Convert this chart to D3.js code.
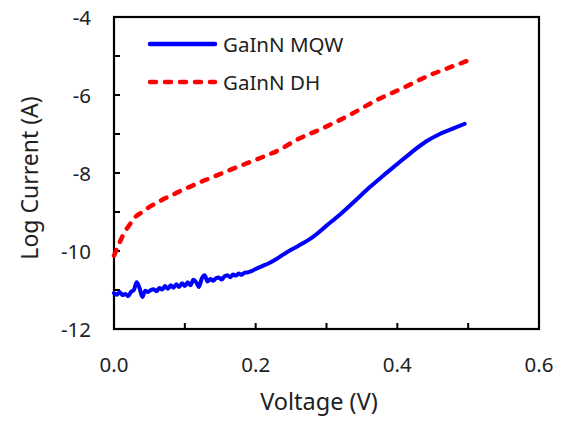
<!DOCTYPE html>
<html><head><meta charset="utf-8">
<script src="https://cdn.jsdelivr.net/npm/d3@7"></script>
<style>body{margin:0;background:#fff;} text{font-family:"Noto Sans","Open Sans",sans-serif;fill:#222;}</style>
</head><body>
<svg id="c" width="564" height="422"></svg>
<script>
const seriesNames = ["GaInN MQW", "GaInN DH"];
const mqwV = [0,0.004,0.008,0.012,0.016,0.02,0.024,0.028,0.032,0.036,0.04,0.044,0.048,0.052,0.056,0.06,0.064,0.068,0.072,0.076,0.08,0.084,0.088,0.092,0.096,0.1,0.104,0.108,0.112,0.116,0.12,0.124,0.128,0.132,0.136,0.14,0.144,0.148,0.152,0.156,0.16,0.164,0.168,0.172,0.176,0.18,0.184,0.188,0.192,0.196,0.2,0.21,0.22,0.23,0.24,0.25,0.26,0.28,0.3,0.32,0.34,0.36,0.38,0.4,0.42,0.44,0.46,0.48,0.495];
const mqwI = [-11.08,-11.12,-11.05,-11.13,-11.1,-11.16,-11.05,-11.0,-10.8,-10.95,-11.18,-11.02,-11.05,-11.0,-10.98,-11.03,-10.95,-10.99,-10.9,-10.97,-10.88,-10.94,-10.85,-10.92,-10.83,-10.9,-10.8,-10.88,-10.74,-10.8,-10.92,-10.7,-10.62,-10.78,-10.72,-10.76,-10.7,-10.68,-10.73,-10.65,-10.62,-10.67,-10.6,-10.63,-10.58,-10.61,-10.56,-10.55,-10.53,-10.5,-10.46,-10.38,-10.3,-10.2,-10.08,-9.97,-9.87,-9.65,-9.35,-9.05,-8.72,-8.38,-8.07,-7.77,-7.47,-7.2,-7.0,-6.85,-6.74];
const dhV = [0,0.004,0.008,0.012,0.016,0.02,0.025,0.03,0.04,0.05,0.06,0.072,0.085,0.096,0.11,0.125,0.14,0.16,0.185,0.21,0.232,0.258,0.295,0.333,0.371,0.408,0.446,0.47,0.498];
const dhI = [-10.12,-9.95,-9.78,-9.62,-9.48,-9.38,-9.25,-9.13,-9.0,-8.87,-8.77,-8.65,-8.54,-8.44,-8.33,-8.21,-8.1,-7.95,-7.77,-7.59,-7.42,-7.15,-6.85,-6.51,-6.13,-5.82,-5.49,-5.32,-5.13];
const xTicks = [0,0.1,0.2,0.3,0.4,0.5,0.6];
const xLabels = ["0.0","0.2","0.4","0.6"];
const yTicks = [-12,-11,-10,-9,-8,-7,-6,-5,-4];
const yLabels = ["-12","-10","-8","-6","-4"];

const svg = d3.select("#c");
const L=114, R=539, T=17, B=329;
const x = d3.scaleLinear().domain([0,0.6]).range([L,R]);
const y = d3.scaleLinear().domain([-12,-4]).range([B,T]);

const g = svg.append("g");
g.append("rect").attr("x",L).attr("y",T).attr("width",R-L).attr("height",B-T)
 .attr("fill","none").attr("stroke","#000").attr("stroke-width",2.2);

g.selectAll(".xt").data(xTicks).enter().append("line")
 .attr("x1",d=>x(d)).attr("x2",d=>x(d)).attr("y1",B).attr("y2",B-6)
 .attr("stroke","#000").attr("stroke-width",2);
g.selectAll(".xl").data(xLabels).enter().append("text")
 .attr("x",d=>x(+d)).attr("y",372).attr("text-anchor","middle").attr("font-size",20.5).text(d=>d);
g.selectAll(".yt").data(yTicks).enter().append("line")
 .attr("x1",L).attr("x2",L+6).attr("y1",d=>y(d)).attr("y2",d=>y(d))
 .attr("stroke","#000").attr("stroke-width",2);
g.selectAll(".yl").data(yLabels).enter().append("text")
 .attr("x",91).attr("y",d=>y(+d)+7.5).attr("text-anchor","end").attr("font-size",20.5).text(d=>d);

g.append("text").attr("x",319).attr("y",410).attr("text-anchor","middle").attr("font-size",23.5).text("Voltage (V)");
g.append("text").attr("transform","translate(38,178) rotate(-90)").attr("text-anchor","middle").attr("font-size",23).text("Log Current (A)");

const mqw = mqwV.map((v,i)=>[v,mqwI[i]]);
const dh = dhV.map((v,i)=>[v,dhI[i]]);
const line = d3.line().x(d=>x(d[0])).y(d=>y(d[1])).curve(d3.curveMonotoneX);
g.append("path").datum(dh).attr("d",line).attr("fill","none")
 .attr("stroke","#ff0000").attr("stroke-width",4.5).attr("stroke-dasharray","6,9").attr("stroke-linecap","round");
g.append("path").datum(mqw).attr("d",line).attr("fill","none")
 .attr("stroke","#0000ff").attr("stroke-width",4).attr("stroke-linejoin","round").attr("stroke-linecap","round");

const lg = [{n:seriesNames[0],c:"#0000ff",dash:null,yy:44},{n:seriesNames[1],c:"#ff0000",dash:"6,9",yy:82}];
lg.forEach(d=>{
  const ln = g.append("line").attr("x1",150).attr("x2",215).attr("y1",d.yy).attr("y2",d.yy)
    .attr("stroke",d.c).attr("stroke-width",4.5).attr("stroke-linecap","round");
  if(d.dash) ln.attr("stroke-dasharray",d.dash);
  g.append("text").attr("x",223).attr("y",d.yy+7.5).attr("font-size",20.5).text(d.n);
});
</script>
</body></html>
